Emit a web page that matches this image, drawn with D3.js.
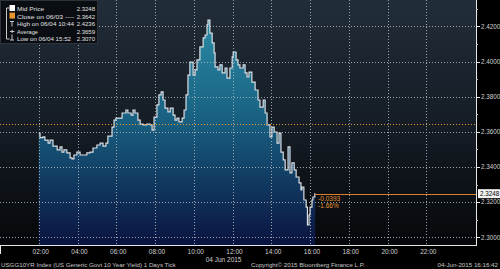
<!DOCTYPE html>
<html>
<head>
<meta charset="utf-8">
<script src="https://cdn.jsdelivr.net/npm/d3@7"></script>
<style>
  html, body { margin:0; padding:0; background:#000; }
  svg { display:block; font-family:"Liberation Sans", Arial, sans-serif; }
</style>
</head>
<body>
<div id="chart"></div>
<script>
// tick data (time of day, yield)
var times = ["02:00","02:04","02:13","02:19","02:29","02:35","02:44","02:57","03:06","03:12",
  "03:18","03:27","03:37","03:43","03:49","03:58","04:08","04:20","04:29","04:39",
  "04:48","05:00","05:10","05:19","05:28","05:34","05:47","05:53","05:59","06:05",
  "06:18","06:30","06:36","06:46","06:52","06:58","07:07","07:14","07:23","07:35",
  "07:45","07:51","07:57","08:06","08:12","08:19","08:25","08:31","08:40","08:47",
  "08:56","09:02","09:08","09:14","09:24","09:30","09:36","09:42","09:48","09:58",
  "10:04","10:10","10:19","10:29","10:35","10:41","10:44","10:50","10:57","11:03",
  "11:06","11:15","11:21","11:28","11:37","11:43","11:52","11:59","12:02","12:11",
  "12:17","12:23","12:33","12:39","12:45","12:51","13:00","13:10","13:19","13:25",
  "13:35","13:41","13:47","13:56","14:02","14:09","14:18","14:24","14:30","14:37",
  "14:43","14:52","14:58","15:04","15:11","15:17","15:26","15:32","15:35","15:41",
  "15:48","15:52","15:57","16:00","16:06","16:09","16:15","16:16"];
var yields = [2.3592,2.3567,2.3571,2.3553,2.3536,2.3553,2.3519,2.3497,2.3514,2.3485,
  2.3497,2.3480,2.3452,2.3446,2.3468,2.3485,2.3468,2.3468,2.3480,2.3485,
  2.3508,2.3525,2.3536,2.3519,2.3536,2.3576,2.3627,2.3667,2.3678,2.3678,
  2.3707,2.3724,2.3707,2.3695,2.3724,2.3707,2.3667,2.3644,2.3639,2.3644,
  2.3639,2.3610,2.3684,2.3753,2.3810,2.3827,2.3781,2.3735,2.3713,2.3735,
  2.3695,2.3667,2.3678,2.3656,2.3678,2.3724,2.3810,2.3923,2.3997,2.3923,
  2.3952,2.4009,2.4083,2.4134,2.4151,2.4208,2.4236,2.4162,2.4106,2.4049,
  2.3969,2.3952,2.3981,2.3935,2.3963,2.3906,2.3963,2.4026,2.4054,2.4009,
  2.3981,2.3963,2.3981,2.3935,2.3912,2.3940,2.3883,2.3838,2.3781,2.3741,
  2.3781,2.3707,2.3639,2.3571,2.3627,2.3599,2.3536,2.3593,2.3485,2.3440,
  2.3383,2.3514,2.3366,2.3423,2.3383,2.3343,2.3309,2.3269,2.3286,2.3212,
  2.3172,2.3070,2.3127,2.3172,2.3212,2.3229,2.3248,2.3248];

var yTicks = [2.30, 2.32, 2.34, 2.36, 2.38, 2.40, 2.42];
var yMinor = [2.31, 2.33, 2.35, 2.37, 2.39, 2.41, 2.43];
var xTickHours = [2, 4, 6, 8, 10, 12, 14, 16, 18, 20, 22];

var legendLabels = ["Mid Price", "Close on 06/03 ----", "High on 06/04 10:44", "Average", "Low on 06/04 15:52"];
var legendValues = ["2.3248", "2.3642", "2.4236", "2.3659", "2.3070"];
var lastValue = 2.3248, closeValue = 2.3642;
var changeText = ["-0.0393", "-1.66%"];

var width = 500, height = 269;
var plotW = 476, plotH = 245;

var day = function(h, m){ return new Date(Date.UTC(2015, 5, 4, h, m || 0)); };
var data = times.map(function(t, i){
  var p = t.split(":");
  return { t: day(+p[0], +p[1]), v: yields[i] };
});

var x = d3.scaleUtc().domain([day(0), day(24, 34)]).range([0, plotW]);
var y = d3.scaleLinear().domain([2.2956, 2.435]).range([plotH, 0]);

var svg = d3.select('#chart').append('svg')
  .attr('width', width).attr('height', height);

var defs = svg.append('defs');
var bg = defs.append('linearGradient').attr('id', 'bg')
  .attr('x1', 0).attr('y1', 0).attr('x2', 0).attr('y2', 1);
bg.append('stop').attr('offset', '0%').attr('stop-color', '#212d39');
bg.append('stop').attr('offset', '55%').attr('stop-color', '#141b23');
bg.append('stop').attr('offset', '100%').attr('stop-color', '#06070a');

var af = defs.append('linearGradient').attr('id', 'af')
  .attr('gradientUnits', 'userSpaceOnUse')
  .attr('x1', 0).attr('y1', 20).attr('x2', 0).attr('y2', plotH);
af.append('stop').attr('offset', '0%').attr('stop-color', '#2a8ba5');
af.append('stop').attr('offset', '45%').attr('stop-color', '#185f80');
af.append('stop').attr('offset', '100%').attr('stop-color', '#0a1340');

svg.append('rect').attr('width', width).attr('height', height).attr('fill', '#000');
svg.append('rect').attr('width', plotW).attr('height', plotH).attr('fill', 'url(#bg)');

// area + line
var area = d3.area().curve(d3.curveStepAfter)
  .x(function(d){ return x(d.t); }).y0(plotH).y1(function(d){ return y(d.v); });
svg.append('path').datum(data).attr('d', area).attr('fill', 'url(#af)');

// grid
var grid = svg.append('g').attr('stroke', '#aab2ba').attr('stroke-width', 1)
  .attr('stroke-dasharray', '1,2').attr('opacity', 0.9);
grid.selectAll('.hg').data(yTicks).enter().append('line')
  .attr('x1', 0).attr('x2', plotW)
  .attr('y1', function(d){ return Math.round(y(d)) + 0.5; })
  .attr('y2', function(d){ return Math.round(y(d)) + 0.5; });
grid.selectAll('.vg').data(xTickHours).enter().append('line')
  .attr('y1', 0).attr('y2', plotH)
  .attr('x1', function(d){ return Math.round(x(day(d))) + 0.5; })
  .attr('x2', function(d){ return Math.round(x(day(d))) + 0.5; });

var line = d3.line().curve(d3.curveStepAfter)
  .x(function(d){ return x(d.t); }).y(function(d){ return y(d.v); });
svg.append('path').datum(data).attr('d', line)
  .attr('fill', 'none').attr('stroke', '#d9dee3').attr('stroke-width', 1.2);

// previous close (dotted) and last price line
svg.append('line').attr('x1', 0).attr('x2', plotW)
  .attr('y1', Math.round(y(closeValue)) + 0.5).attr('y2', Math.round(y(closeValue)) + 0.5)
  .attr('stroke', '#e39a35').attr('stroke-dasharray', '1,2');
var last = data[data.length - 1];
svg.append('line').attr('x1', x(last.t)).attr('x2', plotW)
  .attr('y1', Math.round(y(lastValue)) + 0.5).attr('y2', Math.round(y(lastValue)) + 0.5)
  .attr('stroke', '#d9822b');

svg.selectAll('.chg').data(changeText).enter().append('text')
  .attr('x', x(last.t) + 3).attr('y', function(d, i){ return y(lastValue) + 7 + i * 7.5; })
  .attr('fill', '#e8952e').attr('font-size', 6.5).text(function(d){ return d; });

// right axis
var yAxis = svg.append('g').attr('transform', 'translate(' + plotW + ',0)');
yAxis.append('line').attr('x1', 0.5).attr('x2', 0.5).attr('y1', 0).attr('y2', plotH)
  .attr('stroke', '#e6e6e6');
yAxis.selectAll('.mj').data(yTicks).enter().append('line')
  .attr('x1', 0).attr('x2', 4)
  .attr('y1', function(d){ return Math.round(y(d)) + 0.5; })
  .attr('y2', function(d){ return Math.round(y(d)) + 0.5; })
  .attr('stroke', '#e6e6e6');
yAxis.selectAll('.mn').data(yMinor).enter().append('line')
  .attr('x1', 0).attr('x2', 2)
  .attr('y1', function(d){ return Math.round(y(d)) + 0.5; })
  .attr('y2', function(d){ return Math.round(y(d)) + 0.5; })
  .attr('stroke', '#bdbdbd');
yAxis.selectAll('.yl').data(yTicks).enter().append('text')
  .attr('x', 5).attr('y', function(d){ return y(d) + 2.3; })
  .attr('fill', '#d0d0d0').attr('font-size', 6.3)
  .text(function(d){ return d.toFixed(4); });
yAxis.append('rect').attr('x', 2).attr('y', y(lastValue) - 4.5)
  .attr('width', 22).attr('height', 9).attr('fill', '#f2f2f2');
yAxis.append('text').attr('x', 4).attr('y', y(lastValue) + 2.3)
  .attr('fill', '#000').attr('font-size', 6.3).text(lastValue.toFixed(4));

// bottom axis
var xAxis = svg.append('g').attr('transform', 'translate(0,' + plotH + ')');
xAxis.append('line').attr('x1', 0).attr('x2', plotW + 1).attr('y1', 0.5).attr('y2', 0.5)
  .attr('stroke', '#e6e6e6');
xAxis.append('line').attr('x1', 0.5).attr('x2', 0.5).attr('y1', 0).attr('y2', 9)
  .attr('stroke', '#e6e6e6');
xAxis.selectAll('.xl').data(xTickHours).enter().append('text')
  .attr('x', function(d){ return x(day(d)) + 2; }).attr('y', 9)
  .attr('text-anchor', 'middle').attr('fill', '#d0d0d0').attr('font-size', 6.5)
  .text(function(d){ return d3.utcFormat('%H:%M')(day(d)); });
xAxis.append('text').attr('x', x(day(12)) + 9).attr('y', 17)
  .attr('text-anchor', 'end').attr('fill', '#d0d0d0').attr('font-size', 6.5)
  .text('04 Jun 2015');

// footer
var foot = svg.append('g').attr('fill', '#c8c8c8').attr('font-size', 6.2);
foot.append('text').attr('x', 1).attr('y', 267)
  .text('USGG10YR Index (US Generic Govt 10 Year Yield) 1 Days  Tick');
foot.append('text').attr('x', 251).attr('y', 267)
  .text('Copyright\u00a9 2015 Bloomberg Finance L.P.');
foot.append('text').attr('x', 498).attr('y', 267).attr('text-anchor', 'end')
  .text('04-Jun-2015 16:16:42');

// legend box
var lg = svg.append('g');
lg.append('rect').attr('x', 0.5).attr('y', 0.5).attr('width', 97).attr('height', 43)
  .attr('fill', '#0a0d12').attr('stroke', '#2c333b');
var rowY = function(i){ return 11 + i * 7.6; };
lg.selectAll('.ll').data(legendLabels).enter().append('text')
  .attr('x', 17).attr('y', function(d, i){ return rowY(i); })
  .attr('fill', '#e0e0e0').attr('font-size', 6).attr('textLength', function(d){ return d.length * 3.0; })
  .attr('lengthAdjust', 'spacingAndGlyphs').text(function(d){ return d; });
lg.selectAll('.lv').data(legendValues).enter().append('text')
  .attr('x', 95).attr('y', function(d, i){ return rowY(i); }).attr('text-anchor', 'end')
  .attr('fill', '#e0e0e0').attr('font-size', 6).text(function(d){ return d; });
lg.append('rect').attr('x', 9.5).attr('y', 5).attr('width', 5.5).attr('height', 6).attr('fill', '#ffffff');
lg.append('rect').attr('x', 9.5).attr('y', 12.6).attr('width', 5.5).attr('height', 6).attr('fill', '#e8952e');
var ic = lg.append('g').attr('stroke', '#c8c8c8').attr('fill', 'none');
ic.append('path').attr('d', 'M9.5,8 H6.5 V39 H9.5');
ic.append('path').attr('d', 'M10,21.5 H14 M12,21.5 V26.5');
ic.append('path').attr('d', 'M10,31.5 H14.5 M12.2,29.8 V33');
ic.append('path').attr('d', 'M12,34.5 V40 M10,40 H14');
</script>
</body>
</html>
